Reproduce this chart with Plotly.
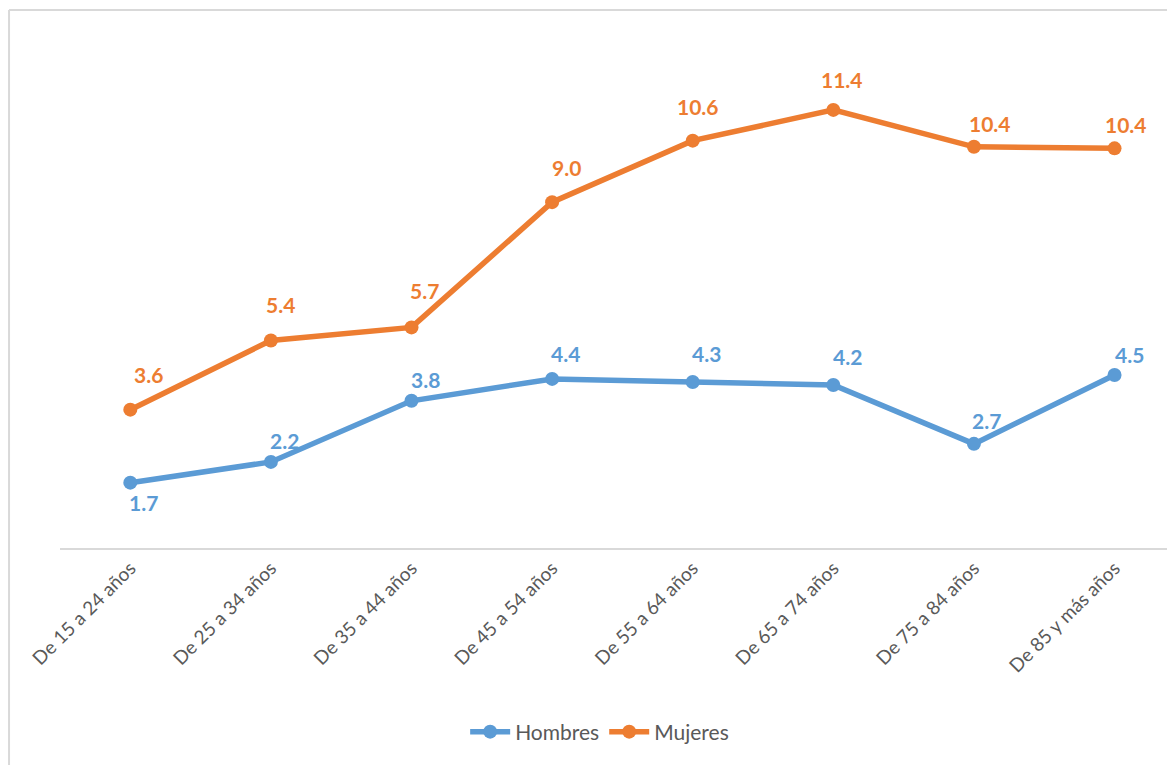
import plotly.graph_objects as go

categories = ["De 15 a 24 años", "De 25 a 34 años", "De 35 a 44 años", "De 45 a 54 años",
              "De 55 a 64 años", "De 65 a 74 años", "De 75 a 84 años", "De 85 y más años"]
hombres = [1.7, 2.24, 3.83, 4.4, 4.32, 4.24, 2.71, 4.5]
mujeres = [3.6, 5.4, 5.74, 9.0, 10.6, 11.4, 10.44, 10.4]

# label offsets (style): pixel shifts for data labels
h_dx = [13, 14, 14, 13, 14, 14, 13, 15]
h_dy = [-20, 21, 21, 25, 28, 29, 23, 21]
m_dx = [18, 10, 13, 14, 5, 9, 16, 11]
m_dy = [35, 36, 37, 35, 34, 30, 23, 24]

BLUE = "#5B9BD5"
ORANGE = "#ED7D31"
FONT = "Lato, 'Open Sans', sans-serif"

fig = go.Figure()
fig.add_trace(go.Scatter(x=categories, y=hombres, name="Hombres", mode="lines+markers",
                         line=dict(color=BLUE, width=5.5), marker=dict(size=14, color=BLUE)))
fig.add_trace(go.Scatter(x=categories, y=mujeres, name="Mujeres", mode="lines+markers",
                         line=dict(color=ORANGE, width=5.5), marker=dict(size=14, color=ORANGE)))

annotations = []
for series, col, dxs, dys in [(hombres, BLUE, h_dx, h_dy), (mujeres, ORANGE, m_dx, m_dy)]:
    for c, v, dx, dy in zip(categories, series, dxs, dys):
        annotations.append(dict(x=c, y=v, text=f"<b>{v:.1f}</b>", showarrow=False,
                                xshift=dx, yshift=dy,
                                font=dict(family=FONT, size=21, color=col)))

fig.update_layout(
    width=1167, height=757,
    margin=dict(l=52, r=0, t=2, b=217),
    paper_bgcolor="white", plot_bgcolor="white",
    showlegend=True,
    legend=dict(orientation="h", x=0.484, xanchor="center", y=-0.342, yanchor="middle",
                font=dict(family=FONT, size=21, color="#595959"), itemwidth=40,
                bgcolor="rgba(0,0,0,0)"),
    annotations=annotations,
    xaxis=dict(type="category", range=[-0.5, 7.43], showgrid=False, zeroline=False,
               showline=True, linecolor="#D9D9D9", linewidth=1.5, ticks="",
               tickangle=-45, tickfont=dict(family=FONT, size=19, color="#595959")),
    yaxis=dict(range=[0, 14], visible=False, showgrid=False, zeroline=False),
    shapes=[
        dict(type="line", xref="paper", yref="paper", x0=-0.0457, x1=1.0, y0=1, y1=1,
             line=dict(color="#D9D9D9", width=2)),
        dict(type="line", xref="paper", yref="paper", x0=-0.0457, x1=-0.0457, y0=1, y1=-0.42,
             line=dict(color="#D9D9D9", width=2)),
    ],
)

fig.write_html("out.html")
